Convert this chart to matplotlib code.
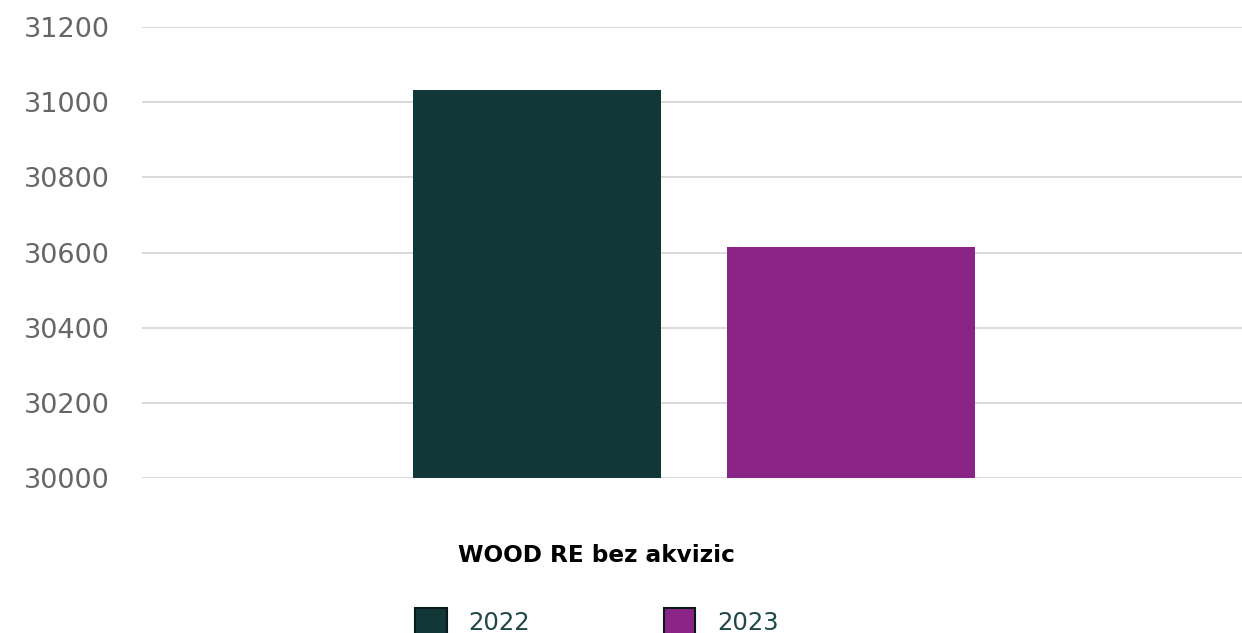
import matplotlib
matplotlib.use('Agg')
import matplotlib.pyplot as plt
from matplotlib.patches import Patch

# Data
category = "WOOD RE bez akvizic"
years = ["2022", "2023"]
values = [31032, 30615]
colors = ["#123738", "#8a2487"]
yticks = [30000, 30200, 30400, 30600, 30800, 31000, 31200]

plt.rcParams['font.family'] = ['DejaVu Sans']

fig = plt.figure(figsize=(12.42, 6.33), dpi=100)
ax = fig.add_axes([0.1143, 0.2449, 0.8857, 0.7124])

width = 0.226
offsets = [-0.141, 0.1445]
for off, v, c in zip(offsets, values, colors):
    ax.bar(off, v - yticks[0], bottom=yticks[0], width=width, color=c, zorder=3)

ax.set_xlim(-0.5, 0.5)
ax.set_ylim(yticks[0], yticks[-1])
ax.set_yticks(yticks)
ax.set_yticklabels([str(t) for t in yticks], color='#666666', fontsize=19.5)
ax.set_xticks([])
ax.tick_params(axis='y', length=0, pad=23)
ax.grid(axis='y', color='#d9d9d9', linewidth=1.4, zorder=0)
for s in ax.spines.values():
    s.set_visible(False)

fig.text(596 / 1242, 1 - 555 / 633, category, ha='center', va='center',
         fontsize=16.7, fontweight='bold', color='#000000')

handles = [Patch(facecolor=c, edgecolor='#0a1a1a', linewidth=1.5, label=y)
           for c, y in zip(colors, years)]
fig.legend(handles=handles, loc='center', bbox_to_anchor=(597 / 1242, 1 - 622 / 633),
           ncol=2, frameon=False, fontsize=17.5, labelcolor='#1f4747',
           handlelength=1.3, handleheight=1.4, handletextpad=0.9, columnspacing=5.5)

fig.savefig('out.png', dpi=100, facecolor='white')
